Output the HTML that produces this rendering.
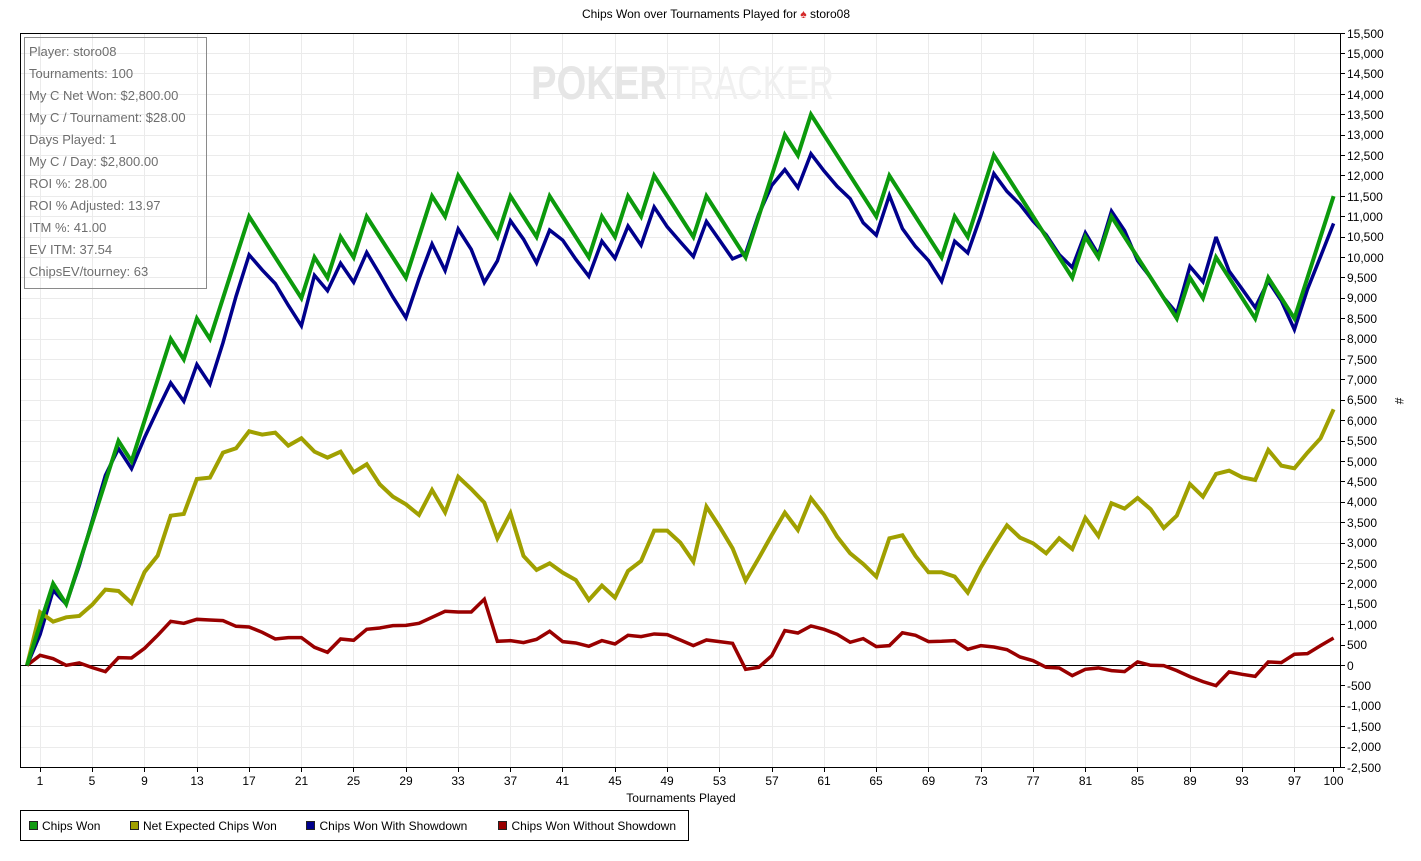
<!DOCTYPE html>
<html>
<head>
<meta charset="utf-8">
<style>
  html,body{margin:0;padding:0;background:#fff;}
  svg{display:block;}
  text{font-family:"Liberation Sans", Arial, sans-serif;}
</style>
</head>
<body>
<svg width="1421" height="861" viewBox="0 0 1421 861" xmlns="http://www.w3.org/2000/svg">
  <rect x="0" y="0" width="1421" height="861" fill="#ffffff"/>

  <!-- Title -->
  <text x="716" y="18" font-size="12" text-anchor="middle" fill="#000">Chips Won over Tournaments Played for <tspan fill="#d42a2a">♠</tspan> storo08</text>

  <!-- Grid -->
  <g stroke="#ebebeb" stroke-width="1" fill="none">
    <path d="M20,53.5H1340 M20,73.5H1340 M20,94.5H1340 M20,114.5H1340 M20,135.5H1340 M20,155.5H1340 M20,175.5H1340 M20,196.5H1340 M20,216.5H1340 M20,237.5H1340 M20,257.5H1340 M20,277.5H1340 M20,298.5H1340 M20,318.5H1340 M20,339.5H1340 M20,359.5H1340 M20,379.5H1340 M20,400.5H1340 M20,420.5H1340 M20,441.5H1340 M20,461.5H1340 M20,481.5H1340 M20,502.5H1340 M20,522.5H1340 M20,543.5H1340 M20,563.5H1340 M20,583.5H1340 M20,604.5H1340 M20,624.5H1340 M20,645.5H1340 M20,685.5H1340 M20,706.5H1340 M20,726.5H1340 M20,747.5H1340"/>
    <path d="M40.5,33V767 M92.5,33V767 M144.5,33V767 M197.5,33V767 M249.5,33V767 M301.5,33V767 M353.5,33V767 M406.5,33V767 M458.5,33V767 M510.5,33V767 M562.5,33V767 M615.5,33V767 M667.5,33V767 M719.5,33V767 M772.5,33V767 M824.5,33V767 M876.5,33V767 M928.5,33V767 M981.5,33V767 M1033.5,33V767 M1085.5,33V767 M1137.5,33V767 M1190.5,33V767 M1242.5,33V767 M1294.5,33V767"/>
  </g>

  <!-- Watermark -->
  <text x="531" y="99" font-size="47" font-weight="bold" fill="#e6e6e6" textLength="136" lengthAdjust="spacingAndGlyphs">POKER</text>
  <text x="668" y="99" font-size="47" fill="#f0f0f0" textLength="166" lengthAdjust="spacingAndGlyphs">TRACKER</text>

  <!-- Zero line -->
  <path d="M20,665.5H1340" stroke="#000" stroke-width="1"/>

  <!-- Info box -->
  <rect x="24.5" y="37.5" width="182" height="251" fill="none" stroke="#8a8a8a" stroke-width="1"/>
  <g font-size="13" fill="#6e6e6e">
    <text x="29" y="56">Player: storo08</text>
    <text x="29" y="78">Tournaments: 100</text>
    <text x="29" y="100">My C Net Won: $2,800.00</text>
    <text x="29" y="122">My C / Tournament: $28.00</text>
    <text x="29" y="144">Days Played: 1</text>
    <text x="29" y="166">My C / Day: $2,800.00</text>
    <text x="29" y="188">ROI %: 28.00</text>
    <text x="29" y="210">ROI % Adjusted: 13.97</text>
    <text x="29" y="232">ITM %: 41.00</text>
    <text x="29" y="254">EV ITM: 37.54</text>
    <text x="29" y="276">ChipsEV/tourney: 63</text>
  </g>

  <!-- Series -->
  <g transform="translate(27,665.3) scale(13.066,-0.0408)" fill="none" stroke-linejoin="miter" stroke-miterlimit="3">
    <polyline vector-effect="non-scaling-stroke" stroke="#990000" stroke-width="3.5" points="0,0 1,245 2,163 3,0 4,57 5,-57 6,-155 7,188 8,180 9,417 10,735 11,1078 12,1029 13,1127 14,1111 15,1095 16,956 17,940 18,809 19,645 20,678 21,678 22,441 23,319 24,645 25,613 26,882 27,915 28,972 29,980 30,1029 31,1176 32,1324 33,1307 34,1307 35,1618 36,588 37,605 38,556 39,637 40,833 41,580 42,547 43,466 44,605 45,523 46,735 47,703 48,768 49,752 50,621 51,482 52,621 53,580 54,539 55,-98 56,-49 57,237 58,850 59,792 60,964 61,882 62,760 63,564 64,654 65,458 66,482 67,797 68,735 69,580 70,588 71,605 72,392 73,482 74,449 75,384 76,204 77,114 78,-49 79,-65 80,-253 81,-98 82,-65 83,-131 84,-155 85,82 86,0 87,-8 88,-131 89,-278 90,-400 91,-498 92,-163 93,-221 94,-270 95,82 96,65 97,270 98,286 99,482 100,670"/>
    <polyline vector-effect="non-scaling-stroke" stroke="#00008c" stroke-width="3.5" points="0,0 1,755 2,1837 3,1500 4,2443 5,3557 6,4655 7,5312 8,4820 9,5583 10,6265 11,6922 12,6471 13,7373 14,6889 15,7905 16,9044 17,10060 18,9691 19,9355 20,8822 21,8322 22,9559 23,9181 24,9855 25,9387 26,10118 27,9585 28,9028 29,8520 30,9471 31,10324 32,9676 33,10693 34,10193 35,9382 36,9912 37,10895 38,10444 39,9863 40,10667 41,10420 42,9953 43,9534 44,10395 45,9977 46,10765 47,10297 48,11232 49,10748 50,10379 51,10018 52,10879 53,10420 54,9961 55,10098 56,11049 57,11763 58,12150 59,11708 60,12536 61,12118 62,11740 63,11436 64,10846 65,10542 66,11518 67,10703 68,10265 69,9920 70,9412 71,10395 72,10108 73,11018 74,12051 75,11616 76,11296 77,10886 78,10549 79,10065 80,9753 81,10598 82,10065 83,11131 84,10655 85,9918 86,9500 87,9008 88,8631 89,9778 90,9400 91,10498 92,9663 93,9221 94,8770 95,9418 96,8935 97,8230 98,9214 99,10018 100,10830"/>
    <polyline vector-effect="non-scaling-stroke" stroke="#a0a000" stroke-width="4" points="0,0 1,1300 2,1070 3,1176 4,1209 5,1487 6,1855 7,1822 8,1528 9,2288 10,2688 11,3668 12,3709 13,4567 14,4600 15,5212 16,5319 17,5735 18,5654 19,5703 20,5384 21,5564 22,5237 23,5090 24,5237 25,4730 26,4927 27,4436 28,4134 29,3946 30,3685 31,4297 32,3750 33,4620 34,4320 35,3987 36,3113 37,3726 38,2680 39,2337 40,2500 41,2271 42,2092 43,1601 44,1953 45,1659 46,2312 47,2557 48,3301 49,3301 50,3007 51,2541 52,3889 53,3399 54,2868 55,2075 56,2623 57,3194 58,3742 59,3317 60,4093 61,3685 62,3154 63,2745 64,2484 65,2173 66,3113 67,3186 68,2680 69,2280 70,2280 71,2173 72,1781 73,2402 74,2933 75,3431 76,3129 77,2990 78,2745 79,3113 80,2851 81,3611 82,3170 83,3971 84,3840 85,4101 86,3824 87,3366 88,3668 89,4444 90,4134 91,4690 92,4771 93,4608 94,4543 95,5278 96,4894 97,4829 98,5212 99,5564 100,6275"/>
    <polyline vector-effect="non-scaling-stroke" stroke="#0c9a0c" stroke-width="4" points="0,0 1,1000 2,2000 3,1500 4,2500 5,3500 6,4500 7,5500 8,5000 9,6000 10,7000 11,8000 12,7500 13,8500 14,8000 15,9000 16,10000 17,11000 18,10500 19,10000 20,9500 21,9000 22,10000 23,9500 24,10500 25,10000 26,11000 27,10500 28,10000 29,9500 30,10500 31,11500 32,11000 33,12000 34,11500 35,11000 36,10500 37,11500 38,11000 39,10500 40,11500 41,11000 42,10500 43,10000 44,11000 45,10500 46,11500 47,11000 48,12000 49,11500 50,11000 51,10500 52,11500 53,11000 54,10500 55,10000 56,11000 57,12000 58,13000 59,12500 60,13500 61,13000 62,12500 63,12000 64,11500 65,11000 66,12000 67,11500 68,11000 69,10500 70,10000 71,11000 72,10500 73,11500 74,12500 75,12000 76,11500 77,11000 78,10500 79,10000 80,9500 81,10500 82,10000 83,11000 84,10500 85,10000 86,9500 87,9000 88,8500 89,9500 90,9000 91,10000 92,9500 93,9000 94,8500 95,9500 96,9000 97,8500 98,9500 99,10500 100,11500"/>
  </g>

  <!-- Frame -->
  <rect x="20.5" y="33.5" width="1320" height="734" fill="none" stroke="#000" stroke-width="1"/>

  <!-- Y ticks -->
  <g stroke="#000" stroke-width="1">
    <path d="M1340,33.5h5 M1340,53.5h5 M1340,73.5h5 M1340,94.5h5 M1340,114.5h5 M1340,135.5h5 M1340,155.5h5 M1340,175.5h5 M1340,196.5h5 M1340,216.5h5 M1340,237.5h5 M1340,257.5h5 M1340,277.5h5 M1340,298.5h5 M1340,318.5h5 M1340,339.5h5 M1340,359.5h5 M1340,379.5h5 M1340,400.5h5 M1340,420.5h5 M1340,441.5h5 M1340,461.5h5 M1340,481.5h5 M1340,502.5h5 M1340,522.5h5 M1340,543.5h5 M1340,563.5h5 M1340,583.5h5 M1340,604.5h5 M1340,624.5h5 M1340,645.5h5 M1340,665.5h5 M1340,685.5h5 M1340,706.5h5 M1340,726.5h5 M1340,747.5h5 M1340,767.5h5"/>
  </g>
  <g font-size="12" fill="#000">
    <text x="1347" y="38">15,500</text>
    <text x="1347" y="58">15,000</text>
    <text x="1347" y="78">14,500</text>
    <text x="1347" y="99">14,000</text>
    <text x="1347" y="119">13,500</text>
    <text x="1347" y="139">13,000</text>
    <text x="1347" y="160">12,500</text>
    <text x="1347" y="180">12,000</text>
    <text x="1347" y="201">11,500</text>
    <text x="1347" y="221">11,000</text>
    <text x="1347" y="241">10,500</text>
    <text x="1347" y="262">10,000</text>
    <text x="1347" y="282">9,500</text>
    <text x="1347" y="302">9,000</text>
    <text x="1347" y="323">8,500</text>
    <text x="1347" y="343">8,000</text>
    <text x="1347" y="364">7,500</text>
    <text x="1347" y="384">7,000</text>
    <text x="1347" y="404">6,500</text>
    <text x="1347" y="425">6,000</text>
    <text x="1347" y="445">5,500</text>
    <text x="1347" y="466">5,000</text>
    <text x="1347" y="486">4,500</text>
    <text x="1347" y="506">4,000</text>
    <text x="1347" y="527">3,500</text>
    <text x="1347" y="547">3,000</text>
    <text x="1347" y="568">2,500</text>
    <text x="1347" y="588">2,000</text>
    <text x="1347" y="608">1,500</text>
    <text x="1347" y="629">1,000</text>
    <text x="1347" y="649">500</text>
    <text x="1347" y="670">0</text>
    <text x="1347" y="690">-500</text>
    <text x="1347" y="710">-1,000</text>
    <text x="1347" y="731">-1,500</text>
    <text x="1347" y="751">-2,000</text>
    <text x="1347" y="772">-2,500</text>
  </g>
  <text x="1398" y="401" font-size="12" fill="#000" text-anchor="middle" transform="rotate(90 1398 401)" dominant-baseline="middle">#</text>

  <!-- X ticks -->
  <g stroke="#000" stroke-width="1">
    <path d="M40.5,767v5 M92.5,767v5 M144.5,767v5 M197.5,767v5 M249.5,767v5 M301.5,767v5 M353.5,767v5 M406.5,767v5 M458.5,767v5 M510.5,767v5 M562.5,767v5 M615.5,767v5 M667.5,767v5 M719.5,767v5 M772.5,767v5 M824.5,767v5 M876.5,767v5 M928.5,767v5 M981.5,767v5 M1033.5,767v5 M1085.5,767v5 M1137.5,767v5 M1190.5,767v5 M1242.5,767v5 M1294.5,767v5 M1333.5,767v5"/>
  </g>
  <g font-size="12" fill="#000" text-anchor="middle">
    <text x="40" y="785">1</text>
    <text x="92" y="785">5</text>
    <text x="144.5" y="785">9</text>
    <text x="197" y="785">13</text>
    <text x="249" y="785">17</text>
    <text x="301.5" y="785">21</text>
    <text x="353.5" y="785">25</text>
    <text x="406" y="785">29</text>
    <text x="458" y="785">33</text>
    <text x="510.5" y="785">37</text>
    <text x="562.5" y="785">41</text>
    <text x="615" y="785">45</text>
    <text x="667" y="785">49</text>
    <text x="719.5" y="785">53</text>
    <text x="772" y="785">57</text>
    <text x="824" y="785">61</text>
    <text x="876" y="785">65</text>
    <text x="928.5" y="785">69</text>
    <text x="981" y="785">73</text>
    <text x="1033" y="785">77</text>
    <text x="1085.5" y="785">81</text>
    <text x="1137.5" y="785">85</text>
    <text x="1190" y="785">89</text>
    <text x="1242" y="785">93</text>
    <text x="1294.5" y="785">97</text>
    <text x="1333.5" y="785">100</text>
  </g>
  <text x="681" y="802" font-size="12" fill="#000" text-anchor="middle">Tournaments Played</text>

  <!-- Legend -->
  <rect x="20.5" y="810.5" width="668" height="30" fill="#fff" stroke="#000" stroke-width="1"/>
  <g stroke="#222" stroke-width="1">
    <rect x="29.5" y="821.5" width="8" height="8" fill="#129a12"/>
    <rect x="130.5" y="821.5" width="8" height="8" fill="#a0a000"/>
    <rect x="306.5" y="821.5" width="8" height="8" fill="#00008c"/>
    <rect x="498.5" y="821.5" width="8" height="8" fill="#990000"/>
  </g>
  <g font-size="12" fill="#000">
    <text x="42" y="830">Chips Won</text>
    <text x="143" y="830">Net Expected Chips Won</text>
    <text x="319.5" y="830">Chips Won With Showdown</text>
    <text x="511.5" y="830">Chips Won Without Showdown</text>
  </g>
</svg>
</body>
</html>
